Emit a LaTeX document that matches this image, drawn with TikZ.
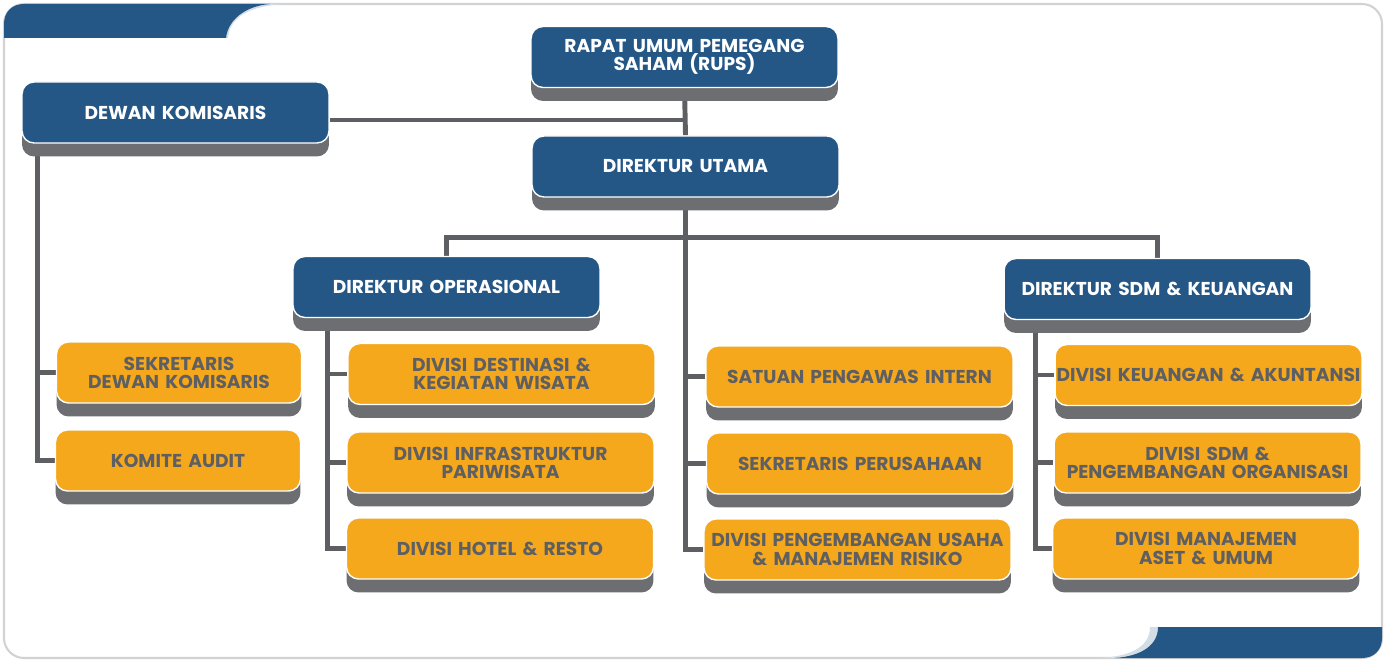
\documentclass[tikz,border=0pt]{standalone}
\usepackage{fontspec}
\newfontfamily\boxfont{Poppins}
\usetikzlibrary{shadows,backgrounds}
\definecolor{orgblue}{HTML}{245786}
\definecolor{orgorange}{HTML}{F5A81C}
\definecolor{orggray}{HTML}{5E5F62}
\definecolor{shadegray}{HTML}{6D6E71}
\definecolor{curlblue}{HTML}{D3DDE6}
\begin{document}
\begin{tikzpicture}[x=0.02cm,y=-0.02cm,
  box/.style={rounded corners=0.24cm,draw=white,line width=0.8pt,align=center,
    inner xsep=0pt,inner ysep=2pt,
    minimum height=1.22cm,text width=6.14cm,minimum width=6.14cm,
    font=\boxfont\bfseries\fontsize{10.6}{10.3}\selectfont,
    drop shadow={shadow xshift=0cm,shadow yshift=-0.27cm,fill=shadegray,opacity=1}},
  headbox/.style={box,fill=orgblue,text=white},
  unitbox/.style={box,fill=orgorange,text=orggray},
  smallbox/.style={unitbox,minimum width=4.9cm,text width=4.9cm},
  link/.style={draw=orggray,line width=2.8pt}]
  \useasboundingbox (0,0) rectangle (1388,661);
  \node [headbox] (rups) at (684.5,57) {RAPAT UMUM PEMEGANG\\SAHAM (RUPS)};
  \node [headbox] (dekom) at (175.5,112.5) {DEWAN KOMISARIS};
  \node [headbox] (dirut) at (685.5,166.5) {DIREKTUR UTAMA};
  \node [headbox] (dirops) at (446.5,287) {DIREKTUR OPERASIONAL};
  \node [headbox] (dirsdm) at (1157.5,289) {DIREKTUR SDM \& KEUANGAN};
  \node [smallbox] (sekdk) at (179,372.5) {SEKRETARIS\\DEWAN KOMISARIS};
  \node [smallbox] (komite) at (178,460.5) {KOMITE AUDIT};
  \node [unitbox] (dest) at (501.5,374) {DIVISI DESTINASI \&\\KEGIATAN WISATA};
  \node [unitbox] (infra) at (500.5,462.5) {DIVISI INFRASTRUKTUR\\PARIWISATA};
  \node [unitbox] (hotel) at (500,548.5) {DIVISI HOTEL \& RESTO};
  \node [unitbox] (spi) at (859.5,376.5) {SATUAN PENGAWAS INTERN};
  \node [unitbox] (sekper) at (860,463.5) {SEKRETARIS PERUSAHAAN};
  \node [unitbox] (dpu) at (857.5,549.5) {DIVISI PENGEMBANGAN USAHA\\\& MANAJEMEN RISIKO};
  \node [unitbox] (keu) at (1208.5,375) {DIVISI KEUANGAN \& AKUNTANSI};
  \node [unitbox] (sdmpo) at (1207.5,462.5) {DIVISI SDM \&\\PENGEMBANGAN ORGANISASI};
  \node [unitbox] (aset) at (1206,548.5) {DIVISI MANAJEMEN\\ASET \& UMUM};
  \coordinate (dekomtrunk) at ([xshift=0.32cm]dekom.south west);
  \coordinate (opstrunk) at ([xshift=0.7cm]dirops.south west);
  \coordinate (sdmtrunk) at ([xshift=0.64cm]dirsdm.south west);
  \coordinate (dekomlink) at ([yshift=-0.15cm]dekom.east);
  \begin{scope}[on background layer]
    \draw [draw=gray!35,line width=1.2pt,rounded corners=0.4cm] (4,4) rectangle (1382,658);
    \fill [curlblue] (4,38) -- (228,38) .. controls (230,14) and (256,4) .. (292,4) -- (24,4)
      .. controls (12,4) and (4,12) .. (4,24) -- cycle;
    \fill [orgblue] (4,38) -- (226,38) .. controls (228,20) and (245,6) .. (270,4) -- (24,4)
      .. controls (12,4) and (4,12) .. (4,24) -- cycle;
    \fill [curlblue] (1382,627) -- (1150,627) .. controls (1150,648) and (1128,657) .. (1098,658)
      -- (1362,658) .. controls (1374,658) and (1382,650) .. (1382,638) -- cycle;
    \fill [orgblue] (1382,627) -- (1158,627) .. controls (1158,645) and (1142,656) .. (1115,658)
      -- (1362,658) .. controls (1374,658) and (1382,650) .. (1382,638) -- cycle;
    \draw [link] (rups.south) -- (dirut.north);
    \draw [link] (dekomlink) -- (dekomlink -| rups.south);
    \draw [link] (dirut.south) |- (dpu.west);
    \draw [link] (spi.west) -- (spi.west -| dirut.south);
    \draw [link] (sekper.west) -- (sekper.west -| dirut.south);
    \draw [link] (dirops.north) -- ++(0,-18) -| (dirsdm.north);
    \draw [link] (dekomtrunk) |- (komite.west);
    \draw [link] (sekdk.west) -- (sekdk.west -| dekomtrunk);
    \draw [link] (opstrunk) |- (hotel.west);
    \draw [link] (dest.west) -- (dest.west -| opstrunk);
    \draw [link] (infra.west) -- (infra.west -| opstrunk);
    \draw [link] (sdmtrunk) |- (aset.west);
    \draw [link] (keu.west) -- (keu.west -| sdmtrunk);
    \draw [link] (sdmpo.west) -- (sdmpo.west -| sdmtrunk);
  \end{scope}
\end{tikzpicture}
\end{document}
